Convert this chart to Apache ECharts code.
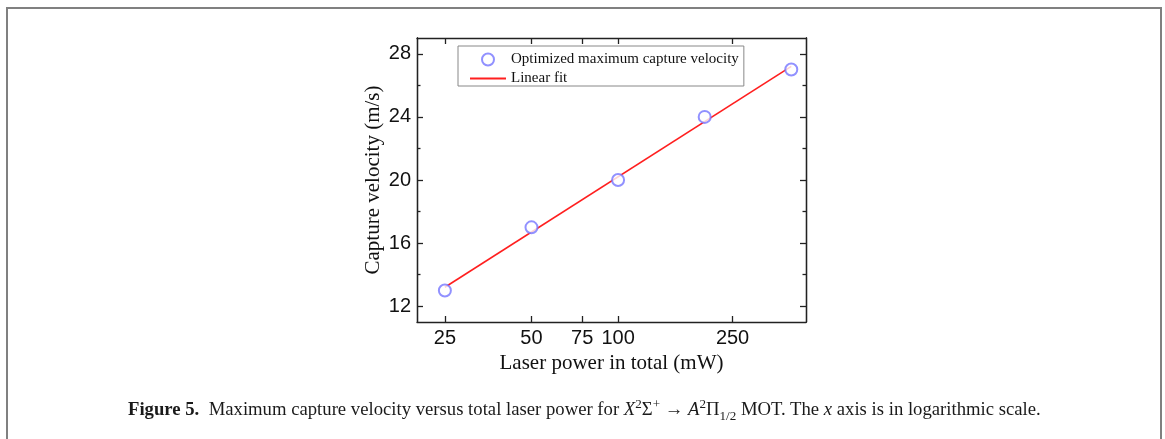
<!DOCTYPE html>
<html>
<head>
<meta charset="utf-8">
<script src="https://cdn.jsdelivr.net/npm/echarts@6/dist/echarts.min.js"></script>
<style>
body { margin: 0; background: #fff; }
#wrap { position: relative; width: 1165px; height: 439px; overflow: hidden; }
#frame { position: absolute; left: 6px; top: 7px; width: 1152px; height: 460px; border: 2px solid #808080; }
#chart { position: absolute; left: 0; top: 0; width: 1165px; height: 439px; }
#caption { position: absolute; left: 128px; top: 398px; font-family: 'Liberation Serif'; font-size: 18.7px; color: #1a1a1a; white-space: nowrap; }
#caption sup, #caption sub { font-size: 0.7em; line-height: 0; }
</style>
</head>
<body>
<div id="wrap">
  <div id="frame"></div>
  <div id="chart"></div>
  <div id="caption"><b>Figure 5.</b>&nbsp;&nbsp;Maximum capture velocity versus total laser power for <i>X</i><sup>2</sup>Σ<sup>+</sup> → <i>A</i><sup>2</sup>Π<sub>1/2</sub> MOT. The <i>x</i> axis is in logarithmic scale.</div>
</div>
<script>
var power = [25, 50, 100, 200, 400];           // mW
var velocity = [13, 17, 20, 24, 27];           // m/s
var fitPower = [25, 400];
var fitVelocity = [13.2, 27.2];
var xTicks = [25, 50, 75, 100, 250];
var yMajor = [12, 16, 20, 24, 28];
var yMinor = [14, 18, 22, 26];

var myChart = echarts.init(document.getElementById('chart'));

var sans = 'Liberation Sans';
var serif = 'Liberation Serif';
var axisColor = '#222';

function xAxisCfg(pos, labels) {
    return {
        type: 'log',
        logBase: 10,
        position: pos,
        min: 20,
        max: 450,
        name: labels ? 'Laser power in total (mW)' : '',
        nameLocation: 'middle',
        nameGap: 30,
        nameTextStyle: { fontFamily: serif, fontSize: 21, color: '#111' },
        axisLine: { show: true, lineStyle: { color: axisColor, width: 1.3 } },
        axisTick: { show: true, inside: true, length: 6, customValues: xTicks, lineStyle: { color: axisColor, width: 1.3 } },
        axisLabel: { show: labels, customValues: xTicks, margin: 6, fontFamily: sans, fontSize: 20, color: '#111' },
        splitLine: { show: false },
        minorTick: { show: false }
    };
}

function yAxisCfg(pos, ticks, len, labels) {
    return {
        type: 'value',
        position: pos,
        min: 11,
        max: 29,
        name: labels ? 'Capture velocity (m/s)' : '',
        nameLocation: 'middle',
        nameGap: 33,
        nameTextStyle: { fontFamily: serif, fontSize: 21, color: '#111' },
        axisLine: { show: true, lineStyle: { color: axisColor, width: 1.3 } },
        axisTick: { show: true, inside: true, length: len, customValues: ticks, lineStyle: { color: axisColor, width: 1.3 } },
        axisLabel: { show: labels, customValues: ticks, margin: 6, fontFamily: sans, fontSize: 20, color: '#111' },
        splitLine: { show: false }
    };
}

var option = {
    animation: false,
    grid: { left: 417, top: 38, right: 359, bottom: 117, containLabel: false },
    legend: {
        orient: 'vertical',
        left: 458,
        top: 46,
        itemWidth: 36,
        itemHeight: 12,
        itemGap: 4,
        padding: [6, 5, 0, 11],
        borderColor: '#888',
        borderWidth: 1,
        textStyle: { fontFamily: serif, fontSize: 15, color: '#111' },
        data: [
            { name: 'Optimized maximum capture velocity' },
            { name: 'Linear fit', itemStyle: { opacity: 0 } }
        ]
    },
    xAxis: [xAxisCfg('bottom', true), xAxisCfg('top', false)],
    yAxis: [
        yAxisCfg('left', yMajor, 6, true),
        yAxisCfg('left', yMinor, 3.5, false),
        yAxisCfg('right', yMajor, 6, false),
        yAxisCfg('right', yMinor, 3.5, false)
    ],
    series: [
        {
            name: 'Linear fit',
            type: 'line',
            symbol: 'none',
            data: fitPower.map(function (p, i) { return [p, fitVelocity[i]]; }),
            lineStyle: { color: '#ff1f1f', width: 1.6 },
            itemStyle: { color: '#ff1f1f' },
            z: 2
        },
        {
            name: 'Optimized maximum capture velocity',
            type: 'scatter',
            symbol: 'emptyCircle',
            symbolSize: 12,
            data: power.map(function (p, i) { return [p, velocity[i]]; }),
            itemStyle: { color: '#7676ff', borderColor: '#7676ff', borderWidth: 1.3 },
            z: 3
        }
    ]
};

myChart.setOption(option);
</script>
</body>
</html>
